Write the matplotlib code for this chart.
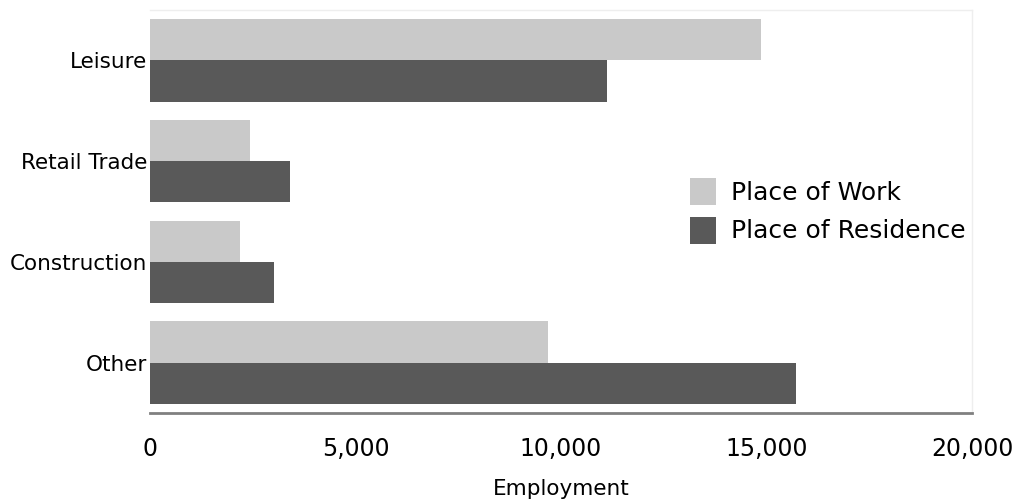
import numpy as np
import matplotlib
matplotlib.use('Agg')
import matplotlib.pyplot as plt

# data
categories = ['Leisure', 'Retail Trade', 'Construction', 'Other']
place_of_work = [14870, 2430, 2190, 9680]
place_of_residence = [11120, 3400, 3020, 15720]
series_names = ['Place of Work', 'Place of Residence']
xticks = [0, 5000, 10000, 15000, 20000]

LIGHT = '#c9c9c9'
DARK = '#595959'

fig = plt.figure(figsize=(10.29, 5.0), dpi=100)
ax = fig.add_axes([150 / 1029, 1 - 413 / 500, 822 / 1029, 403 / 500])

y = np.arange(len(categories))
h = 0.41
ax.barh(y - h / 2, place_of_work, height=h, color=LIGHT, label=series_names[0])
ax.barh(y + h / 2, place_of_residence, height=h, color=DARK, label=series_names[1])

ax.set_ylim(len(categories) - 0.5, -0.5)
ax.set_xlim(0, 20000)
ax.set_yticks(y)
ax.set_yticklabels(categories, fontsize=15.5)
ax.set_xticks(xticks)
ax.set_xticklabels(['{:,}'.format(t) for t in xticks], fontsize=17)
ax.tick_params(axis='y', length=0, pad=2)
ax.tick_params(axis='x', length=0, pad=17)
ax.set_xlabel('Employment', fontsize=15.5, labelpad=13)

for s in ['top', 'right']:
    ax.spines[s].set_color('#eeeeee')
    ax.spines[s].set_linewidth(1)
ax.spines['left'].set_visible(False)
ax.spines['bottom'].set_color('#808080')
ax.spines['bottom'].set_linewidth(2)

ax.legend(loc='upper left', bbox_to_anchor=((690 - 150) / 822, (413 - 178) / 403),
          frameon=False, fontsize=18, handlelength=1.05, handleheight=1.3,
          handletextpad=0.6, labelspacing=0.45, borderaxespad=0, borderpad=0)

fig.savefig('out.png', dpi=100)
